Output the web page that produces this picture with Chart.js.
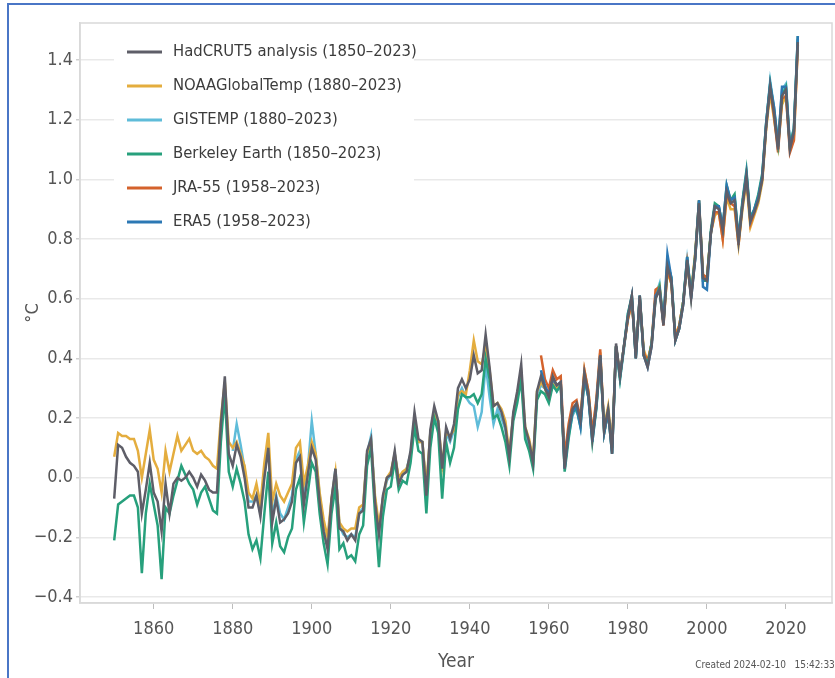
<!DOCTYPE html>
<html>
<head>
<meta charset="utf-8">
<script src="https://cdn.jsdelivr.net/npm/chart.js@4.4.1/dist/chart.umd.min.js"></script>
<style>
  html, body { margin: 0; padding: 0; background: #fff; }
  #wrap { position: relative; width: 835px; height: 678px; overflow: hidden; }
  #frame { position: absolute; left: 7px; top: 3px; width: 840px; height: 690px;
           border-left: 2px solid #4a76c6; border-top: 2px solid #4a76c6; pointer-events: none; }
</style>
</head>
<body>
<div id="wrap">
  <canvas id="chart" width="835" height="678"></canvas>
  <div id="frame"></div>
</div>
<script>
// annual global mean temperature difference from 1850-1900 (°C)
const FONT = '"Liberation Sans Narrow", "DejaVu Sans Condensed", "Roboto", sans-serif';

const firstYear = 1850;
const lastYear = 2023;
const xTicks = [1860, 1880, 1900, 1920, 1940, 1960, 1980, 2000, 2020];
const yTicks = [-0.4, -0.2, 0.0, 0.2, 0.4, 0.6, 0.8, 1.0, 1.2, 1.4];

// 1850-2023
const hadcrut = [
  -0.07, 0.11, 0.10, 0.07, 0.05, 0.04, 0.02, -0.12, -0.04, 0.05,
  -0.05, -0.08, -0.18, -0.02, -0.12, -0.02, 0.00, -0.01, 0.00, 0.02,
  0.00, -0.03, 0.01, -0.01, -0.04, -0.05, -0.05, 0.18, 0.34, 0.08,
  0.04, 0.11, 0.07, 0.00, -0.10, -0.10, -0.06, -0.13, 0.00, 0.10,
  -0.15, -0.07, -0.15, -0.14, -0.12, -0.08, 0.05, 0.07, -0.09, 0.01,
  0.10, 0.06, -0.08, -0.18, -0.24, -0.07, 0.03, -0.17, -0.18, -0.21,
  -0.19, -0.21, -0.12, -0.11, 0.09, 0.13, -0.08, -0.19, -0.06, 0.00,
  0.01, 0.09, -0.02, 0.01, 0.02, 0.09, 0.22, 0.13, 0.12, -0.06,
  0.16, 0.24, 0.19, 0.03, 0.17, 0.13, 0.18, 0.30, 0.33, 0.30,
  0.33, 0.41, 0.35, 0.36, 0.48, 0.37, 0.24, 0.25, 0.22, 0.17,
  0.07, 0.22, 0.29, 0.38, 0.17, 0.12, 0.05, 0.29, 0.34, 0.30,
  0.27, 0.34, 0.31, 0.32, 0.03, 0.16, 0.23, 0.25, 0.19, 0.35,
  0.28, 0.13, 0.24, 0.41, 0.16, 0.23, 0.08, 0.45, 0.34, 0.44,
  0.54, 0.61, 0.40, 0.61, 0.41, 0.37, 0.44, 0.60, 0.63, 0.51,
  0.71, 0.66, 0.46, 0.50, 0.58, 0.73, 0.60, 0.73, 0.92, 0.67,
  0.66, 0.82, 0.91, 0.90, 0.83, 0.96, 0.92, 0.93, 0.79, 0.91,
  1.01, 0.86, 0.89, 0.93, 1.00, 1.18, 1.31, 1.22, 1.10, 1.28,
  1.30, 1.10, 1.16, 1.46
];

// 1850-2023
const noaa = [
  0.07, 0.15, 0.14, 0.14, 0.13, 0.13, 0.09, 0.00, 0.08, 0.16,
  0.06, 0.03, -0.05, 0.09, 0.02, 0.08, 0.14, 0.09, 0.11, 0.13,
  0.09, 0.08, 0.09, 0.07, 0.06, 0.04, 0.03, 0.20, 0.32, 0.12,
  0.10, 0.12, 0.08, 0.04, -0.05, -0.07, -0.02, -0.09, 0.05, 0.15,
  -0.08, -0.02, -0.06, -0.08, -0.05, -0.02, 0.10, 0.12, -0.02, 0.04,
  0.12, 0.08, -0.05, -0.14, -0.20, -0.07, 0.02, -0.15, -0.17, -0.18,
  -0.17, -0.17, -0.10, -0.09, 0.08, 0.12, -0.06, -0.16, -0.07, 0.00,
  0.02, 0.08, 0.00, 0.02, 0.03, 0.07, 0.19, 0.12, 0.12, -0.03,
  0.15, 0.21, 0.19, 0.04, 0.15, 0.14, 0.16, 0.28, 0.29, 0.28,
  0.36, 0.46, 0.39, 0.38, 0.44, 0.36, 0.24, 0.25, 0.23, 0.19,
  0.08, 0.21, 0.28, 0.35, 0.17, 0.13, 0.06, 0.29, 0.32, 0.30,
  0.26, 0.32, 0.30, 0.31, 0.05, 0.16, 0.22, 0.24, 0.20, 0.36,
  0.29, 0.15, 0.25, 0.42, 0.17, 0.24, 0.11, 0.44, 0.35, 0.44,
  0.53, 0.59, 0.42, 0.60, 0.43, 0.39, 0.45, 0.61, 0.64, 0.52,
  0.69, 0.65, 0.48, 0.51, 0.59, 0.71, 0.62, 0.75, 0.91, 0.68,
  0.67, 0.82, 0.88, 0.89, 0.80, 0.94, 0.90, 0.90, 0.78, 0.90,
  0.99, 0.84, 0.88, 0.92, 0.99, 1.17, 1.29, 1.20, 1.11, 1.25,
  1.28, 1.11, 1.13, 1.45
];

// 1880-2023
const gistemp = [
  0.09, 0.18, 0.11, 0.03, -0.08, -0.08, -0.06, -0.12, 0.01, 0.11,
  -0.13, -0.06, -0.12, -0.14, -0.10, -0.06, 0.06, 0.09, -0.07, 0.03,
  0.19, 0.08, -0.06, -0.16, -0.22, -0.08, 0.03, -0.16, -0.19, -0.20,
  -0.19, -0.20, -0.12, -0.10, 0.08, 0.14, -0.07, -0.18, -0.07, -0.01,
  0.01, 0.08, -0.01, 0.01, 0.03, 0.08, 0.20, 0.12, 0.12, -0.05,
  0.15, 0.22, 0.18, 0.02, 0.15, 0.12, 0.16, 0.27, 0.30, 0.27,
  0.25, 0.24, 0.17, 0.22, 0.38, 0.27, 0.18, 0.23, 0.20, 0.16,
  0.07, 0.21, 0.28, 0.35, 0.15, 0.11, 0.04, 0.28, 0.31, 0.30,
  0.26, 0.32, 0.29, 0.32, 0.04, 0.14, 0.21, 0.23, 0.18, 0.34,
  0.27, 0.14, 0.23, 0.40, 0.16, 0.23, 0.10, 0.44, 0.33, 0.43,
  0.55, 0.60, 0.41, 0.60, 0.41, 0.38, 0.45, 0.61, 0.65, 0.52,
  0.72, 0.67, 0.47, 0.51, 0.59, 0.73, 0.62, 0.73, 0.91, 0.67,
  0.66, 0.82, 0.91, 0.91, 0.83, 0.97, 0.93, 0.94, 0.80, 0.92,
  1.02, 0.87, 0.90, 0.94, 1.01, 1.19, 1.33, 1.24, 1.12, 1.30,
  1.32, 1.12, 1.17, 1.47
];

// 1850-2023
const berkeley = [
  -0.21, -0.09, -0.08, -0.07, -0.06, -0.06, -0.10, -0.32, -0.12, -0.02,
  -0.09, -0.16, -0.34, -0.10, -0.12, -0.06, -0.01, 0.04, 0.01, -0.02,
  -0.04, -0.09, -0.05, -0.03, -0.07, -0.11, -0.12, 0.12, 0.28, 0.02,
  -0.03, 0.03, -0.02, -0.08, -0.19, -0.24, -0.21, -0.27, -0.12, 0.02,
  -0.22, -0.15, -0.23, -0.25, -0.20, -0.17, -0.04, 0.00, -0.15, -0.05,
  0.05, 0.02, -0.12, -0.22, -0.29, -0.12, -0.03, -0.24, -0.22, -0.27,
  -0.26, -0.28, -0.19, -0.16, 0.04, 0.10, -0.12, -0.30, -0.13, -0.04,
  -0.03, 0.06, -0.04, -0.01, -0.02, 0.05, 0.17, 0.09, 0.08, -0.12,
  0.10, 0.20, 0.15, -0.07, 0.12, 0.05, 0.10, 0.23, 0.28, 0.27,
  0.27, 0.28, 0.25, 0.28, 0.40, 0.33, 0.20, 0.21, 0.17, 0.12,
  0.04, 0.19, 0.25, 0.33, 0.13, 0.09, 0.03, 0.26, 0.29, 0.28,
  0.25, 0.31, 0.29, 0.31, 0.02, 0.13, 0.22, 0.23, 0.17, 0.33,
  0.27, 0.12, 0.23, 0.40, 0.15, 0.22, 0.08, 0.44, 0.33, 0.44,
  0.55, 0.61, 0.40, 0.61, 0.41, 0.38, 0.45, 0.60, 0.64, 0.52,
  0.72, 0.67, 0.46, 0.50, 0.59, 0.74, 0.61, 0.74, 0.93, 0.66,
  0.66, 0.83, 0.92, 0.91, 0.84, 0.98, 0.93, 0.95, 0.80, 0.93,
  1.03, 0.87, 0.90, 0.95, 1.02, 1.19, 1.32, 1.23, 1.12, 1.28,
  1.31, 1.11, 1.17, 1.48
];

// 1958-2023
const jra55 = [
  0.41, 0.33,
  0.30, 0.36, 0.33, 0.34, 0.07, 0.18, 0.25, 0.26, 0.20, 0.36,
  0.29, 0.15, 0.26, 0.43, 0.15, 0.22, 0.10, 0.44, 0.34, 0.44,
  0.53, 0.59, 0.42, 0.60, 0.42, 0.39, 0.45, 0.63, 0.64, 0.51,
  0.70, 0.65, 0.47, 0.51, 0.59, 0.72, 0.61, 0.74, 0.93, 0.68,
  0.67, 0.82, 0.89, 0.89, 0.80, 0.95, 0.92, 0.91, 0.78, 0.92,
  1.01, 0.85, 0.89, 0.94, 1.00, 1.18, 1.31, 1.21, 1.09, 1.27,
  1.28, 1.09, 1.13, 1.45
];

// 1958-2023
const era5 = [
  0.36, 0.31,
  0.28, 0.33, 0.31, 0.32, 0.03, 0.15, 0.22, 0.24, 0.17, 0.34,
  0.27, 0.12, 0.24, 0.41, 0.15, 0.22, 0.08, 0.44, 0.34, 0.44,
  0.54, 0.61, 0.40, 0.61, 0.41, 0.37, 0.44, 0.61, 0.63, 0.52,
  0.75, 0.67, 0.46, 0.50, 0.58, 0.74, 0.60, 0.73, 0.93, 0.64,
  0.63, 0.82, 0.91, 0.91, 0.84, 0.98, 0.93, 0.94, 0.80, 0.92,
  1.02, 0.86, 0.90, 0.94, 1.01, 1.19, 1.32, 1.24, 1.11, 1.31,
  1.31, 1.11, 1.16, 1.48
];

const seriesNames = [
  'HadCRUT5 analysis (1850–2023)',
  'NOAAGlobalTemp (1880–2023)',
  'GISTEMP (1880–2023)',
  'Berkeley Earth (1850–2023)',
  'JRA-55 (1958–2023)',
  'ERA5 (1958–2023)'
];
const seriesStart = [1850, 1850, 1880, 1850, 1958, 1958];
const seriesValues = [hadcrut, noaa, gistemp, berkeley, jra55, era5];
const seriesColors = ['#5e5e68', '#e4ad3e', '#5fbcd9', '#27a07c', '#d4622c', '#2c78b4'];
const drawOrder = [0, 4, 5, 2, 3, 1]; // lower = drawn on top

function toPoints(values, start) {
  return values.map((v, i) => ({ x: start + i, y: v }));
}

const datasets = seriesNames.map((name, i) => ({
  label: name,
  data: toPoints(seriesValues[i], seriesStart[i]),
  borderColor: seriesColors[i],
  backgroundColor: seriesColors[i],
  borderWidth: 2.5,
  pointRadius: 0,
  tension: 0,
  order: drawOrder[i]
}));

// box around plot, legend in upper left, creation stamp
const extras = {
  id: 'extras',
  afterDraw(chart) {
    const { ctx, chartArea: a } = chart;
    ctx.save();
    ctx.strokeStyle = '#d9d9d9';
    ctx.lineWidth = 1.5;
    ctx.strokeRect(a.left, a.top, a.right - a.left, a.bottom - a.top);

    ctx.fillStyle = '#ffffff';
    ctx.fillRect(114, 36, 300, 202);
    ctx.font = '16.5px ' + FONT;
    ctx.textBaseline = 'middle';
    seriesNames.forEach((name, i) => {
      const y = 52 + i * 34;
      ctx.strokeStyle = seriesColors[i];
      ctx.lineWidth = 3;
      ctx.beginPath();
      ctx.moveTo(127, y);
      ctx.lineTo(162, y);
      ctx.stroke();
      ctx.fillStyle = '#3c3c3c';
      ctx.fillText(name, 173, y);
    });

    ctx.font = '10px ' + FONT;
    ctx.fillStyle = '#555';
    ctx.textAlign = 'center';
    ctx.fillText('Created 2024-02-10   15:42:33', 765, 665);
    ctx.restore();
  }
};

new Chart(document.getElementById('chart'), {
  type: 'line',
  data: { datasets },
  plugins: [extras],
  options: {
    responsive: false,
    animation: false,
    layout: { padding: { top: 23, right: 3, left: 0, bottom: 0 } },
    plugins: { legend: { display: false }, tooltip: { enabled: false } },
    scales: {
      x: {
        type: 'linear',
        min: 1841.35,
        max: 2031.65,
        afterBuildTicks: s => { s.ticks = xTicks.map(v => ({ value: v })); },
        afterFit: s => { s.height = 75; },
        grid: { drawOnChartArea: false, drawTicks: true, tickLength: 6, tickColor: '#bdbdbd' },
        border: { color: '#d9d9d9', width: 1.5 },
        ticks: { font: { family: FONT, size: 18 }, color: '#555', padding: 10, maxRotation: 0,
                 callback: v => String(v) },
        title: { display: true, text: 'Year', font: { family: FONT, size: 19 }, color: '#555',
                 padding: { top: 0, bottom: 5 } }
      },
      y: {
        min: -0.42,
        max: 1.524,
        afterBuildTicks: s => { s.ticks = yTicks.map(v => ({ value: v })); },
        afterFit: s => { s.width = 80; },
        grid: { color: '#e9e9e9', lineWidth: 1.5, drawTicks: true, tickLength: 4, tickColor: '#d0d0d0' },
        border: { color: '#d9d9d9', width: 1.5 },
        ticks: {
          font: { family: FONT, size: 18 }, color: '#555', padding: 3,
          callback: v => (v < 0 ? '\u2212' : '') + Math.abs(v).toFixed(1)
        },
        title: { display: true, text: '°C', font: { family: FONT, size: 18 }, color: '#555',
                 padding: { top: 23, bottom: 0 } }
      }
    }
  }
});
</script>
</body>
</html>
